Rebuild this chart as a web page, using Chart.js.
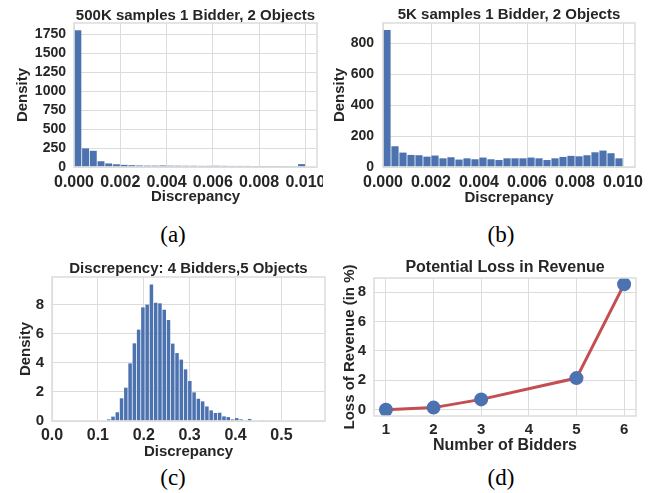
<!DOCTYPE html>
<html>
<head>
<meta charset="utf-8">
<script src="https://cdn.jsdelivr.net/npm/chart.js@4.4.1/dist/chart.umd.min.js"></script>
<style>
  body { margin: 0; background: #fff; }
  #fig { position: relative; width: 665px; height: 493px; overflow: hidden; background: #fff; }
  canvas { position: absolute; }
  .cap { position: absolute; font-family: 'Liberation Serif', 'Times New Roman', serif; font-size: 23px; color: #000; transform: translate(-50%, -50%); }
</style>
</head>
<body>
<div id="fig">
  <canvas id="chartA" width="323" height="207" style="left:0px;top:0px"></canvas>
  <canvas id="chartB" width="335" height="207" style="left:330px;top:0px"></canvas>
  <canvas id="chartC" width="330" height="211" style="left:0px;top:250px"></canvas>
  <canvas id="chartD" width="335" height="206" style="left:330px;top:250px"></canvas>
  <div class="cap" style="left:173px;top:235px">(a)</div>
  <div class="cap" style="left:501px;top:235px">(b)</div>
  <div class="cap" style="left:173px;top:478px">(c)</div>
  <div class="cap" style="left:501px;top:478px">(d)</div>
</div>
<script>
// histogram bins shared by (a) and (b): 30 bins over 0 .. 0.010
const binsAB = [0.000167, 0.0005, 0.000833, 0.001167, 0.0015, 0.001833, 0.002167, 0.0025, 0.002833, 0.003167,
                0.0035, 0.003833, 0.004167, 0.0045, 0.004833, 0.005167, 0.0055, 0.005833, 0.006167, 0.0065,
                0.006833, 0.007167, 0.0075, 0.007833, 0.008167, 0.0085, 0.008833, 0.009167, 0.0095, 0.009833];
const densityA = [1805, 246, 214, 76, 47, 36, 28, 24, 20, 18, 18, 20, 17, 17, 16,
                  16, 15, 15, 16, 15, 14, 14, 14, 13, 13, 13, 13, 12, 12, 38];
const densityB = [884, 134, 93, 78, 76, 67, 74, 56, 63, 48, 56, 50, 61, 50, 45,
                  56, 56, 56, 61, 56, 45, 56, 65, 72, 69, 76, 95, 106, 89, 56];
const xTicksAB = [0, 0.002, 0.004, 0.006, 0.008, 0.010];
const xLabelsAB = ['0.000', '0.002', '0.004', '0.006', '0.008', '0.010'];
const yTicksA = [0, 250, 500, 750, 1000, 1250, 1500, 1750];
const yTicksB = [0, 200, 400, 600, 800];

// (c) 4 bidders, 5 objects
const binsC = [0.1237, 0.1330, 0.1423, 0.1516, 0.1609, 0.1702, 0.1795, 0.1888, 0.1981, 0.2074,
               0.2167, 0.2260, 0.2353, 0.2446, 0.2539, 0.2632, 0.2725, 0.2818, 0.2911, 0.3004,
               0.3097, 0.3190, 0.3283, 0.3376, 0.3469, 0.3562, 0.3655, 0.3748, 0.3841, 0.3934,
               0.4027, 0.4120, 0.4213, 0.4306, 0.4399, 0.4492, 0.4585];
const densityC = [0.11, 0.30, 0.60, 1.56, 2.29, 3.96, 5.34, 6.28, 7.81, 8.00,
                  9.39, 8.13, 8.09, 7.65, 6.94, 5.32, 4.67, 4.22, 3.55, 2.75,
                  1.97, 1.53, 1.35, 1.00, 0.73, 0.55, 0.57, 0.32, 0.27, 0.11,
                  0.20, 0.11, 0.05, 0.14, 0, 0, 0.05];
const xTicksC = [0, 0.1, 0.2, 0.3, 0.4, 0.5];
const xLabelsC = ['0.0', '0.1', '0.2', '0.3', '0.4', '0.5'];
const yTicksC = [0, 2, 4, 6, 8];

// (d) potential loss in revenue
const bidders = [1, 2, 3, 5, 6];
const lossPct = [0.0, 0.14, 0.70, 2.15, 8.53];
const xTicksD = [1, 2, 3, 4, 5, 6];
const yTicksD = [0, 2, 4, 6, 8];

const blue = '#4C72B0';
const red = '#C44E52';
const gridColor = '#dcdcdc';
const textColor = '#262626';

Chart.defaults.font.family = "'Liberation Sans', Arial, sans-serif";
Chart.defaults.font.weight = 'bold';
Chart.defaults.color = textColor;

const framePlugin = {
  id: 'frame',
  afterDatasetsDraw(chart) {
    const { ctx, chartArea: a } = chart;
    ctx.save();
    ctx.strokeStyle = gridColor;
    ctx.lineWidth = 1.5;
    ctx.strokeRect(a.left, a.top, a.right - a.left, a.bottom - a.top);
    ctx.restore();
  }
};

function xAxis(min, max, ticks, labels, size, tickPad, title, titleSize, titlePad, height) {
  return {
    type: 'linear', min: min, max: max, offset: false,
    grid: { color: gridColor, drawTicks: false, offset: false },
    border: { display: false },
    ticks: { font: { size: size }, padding: tickPad, autoSkip: false, maxRotation: 0,
             callback: (v, i) => labels[i] },
    afterBuildTicks: s => { s.ticks = ticks.map(v => ({ value: v })); },
    afterFit: s => { s.height = height; s.paddingLeft = 0; s.paddingRight = 0; },
    title: { display: true, text: title, color: textColor,
             font: { size: titleSize, weight: 'bold', lineHeight: 1 }, padding: { top: 0, bottom: titlePad } }
  };
}

function yAxis(min, max, ticks, size, tickPad, title, titleSize, titlePad, width) {
  return {
    min: min, max: max,
    grid: { color: gridColor, drawTicks: false },
    border: { display: false },
    ticks: { font: { size: size }, padding: tickPad, autoSkip: false,
             callback: (v, i) => String(ticks[i]) },
    afterBuildTicks: s => { s.ticks = ticks.map(v => ({ value: v })); },
    afterFit: s => { s.width = width; s.paddingTop = 0; s.paddingBottom = 0; },
    title: { display: true, text: title, color: textColor,
             font: { size: titleSize, weight: 'bold', lineHeight: 1 }, padding: { top: titlePad, bottom: 0 } }
  };
}

function titleOpts(text, size, top, bottom) {
  return { display: true, text: text, color: textColor, fullSize: false,
           font: { size: size, weight: 'bold', lineHeight: 1 }, padding: { top: top, bottom: bottom } };
}

function histChart(id, bins, values, barPct, opts) {
  return new Chart(document.getElementById(id).getContext('2d'), {
    type: 'bar',
    data: {
      datasets: [{
        data: bins.map((b, i) => ({ x: b, y: values[i] })),
        backgroundColor: blue,
        borderWidth: 0,
        categoryPercentage: 1,
        barPercentage: barPct
      }]
    },
    options: {
      responsive: false, animation: false, devicePixelRatio: 1,
      layout: { padding: { left: 0, top: 0, bottom: 0, right: opts.right } },
      plugins: { legend: { display: false }, tooltip: { enabled: false }, title: opts.title },
      scales: { x: opts.x, y: opts.y }
    },
    plugins: [framePlugin]
  });
}

histChart('chartA', binsAB, densityA, 0.9, {
  right: 6,
  title: titleOpts('500K samples 1 Bidder, 2 Objects', 15, 8, 0),
  x: xAxis(0, 0.0105, xTicksAB, xLabelsAB, 16, 6, 'Discrepancy', 15, 3, 40),
  y: yAxis(0, 1901, yTicksA, 14, 8, 'Density', 15, 15.5, 74)
});

histChart('chartB', binsAB, densityB, 0.9, {
  right: 30,
  title: titleOpts('5K samples 1 Bidder, 2 Objects', 15, 7, 1),
  x: xAxis(0, 0.0105, xTicksAB, xLabelsAB, 16, 6, 'Discrepancy', 15, 2, 40),
  y: yAxis(0, 930, yTicksB, 14, 9, 'Density', 15, 2.5, 53)
});

histChart('chartC', binsC, densityC, 0.82, {
  right: 5,
  title: titleOpts('Discrepency: 4 Bidders,5 Objects', 15, 11, 1),
  x: xAxis(0, 0.595, xTicksC, xLabelsC, 16, 5, 'Discrepancy', 15, 2, 40),
  y: yAxis(0, 9.9, yTicksC, 15, 8, 'Density', 15, 18, 52)
});

new Chart(document.getElementById('chartD').getContext('2d'), {
  type: 'line',
  data: {
    datasets: [{
      data: bidders.map((b, i) => ({ x: b, y: lossPct[i] })),
      borderColor: red,
      borderWidth: 3,
      pointRadius: 5.5,
      pointBackgroundColor: blue,
      pointBorderColor: blue,
      tension: 0
    }]
  },
  options: {
    responsive: false, animation: false, devicePixelRatio: 1,
    layout: { padding: { left: 0, top: 0, bottom: 0, right: 29 } },
    plugins: { legend: { display: false }, tooltip: { enabled: false },
               title: titleOpts('Potential Loss in Revenue', 16, 9.5, 2.5) },
    scales: {
      x: xAxis(0.75, 6.25, xTicksD, xTicksD.map(String), 15, 5, 'Number of Bidders', 16, 2, 40),
      y: yAxis(-0.43, 8.96, yTicksD, 15, 8, 'Loss of Revenue (in %)', 15, 12, 44)
    }
  },
  plugins: [framePlugin]
});
</script>
</body>
</html>
